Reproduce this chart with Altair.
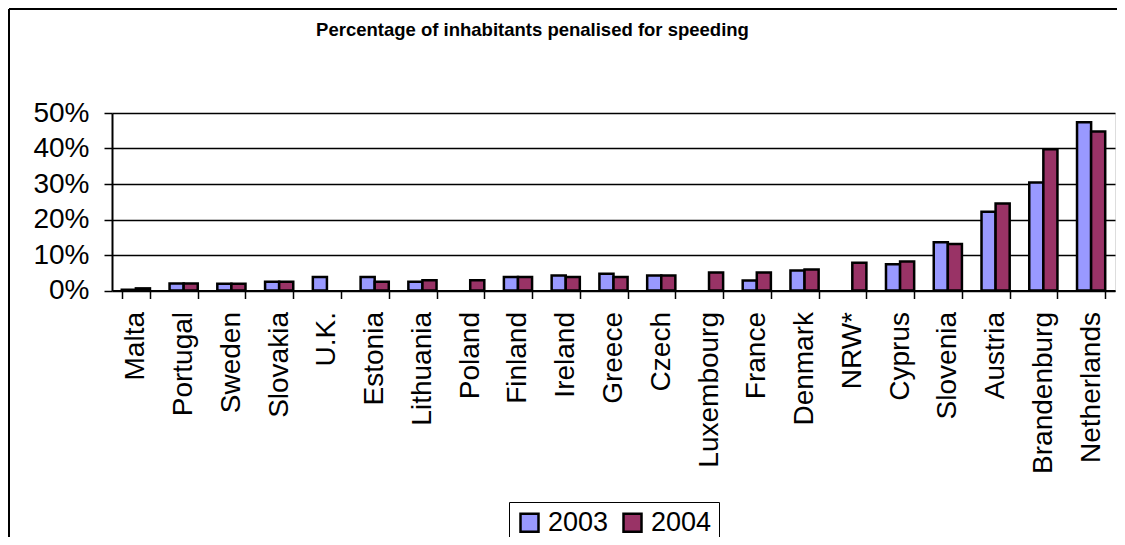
import altair as alt
import pandas as pd

countries = ["Malta", "Portugal", "Sweden", "Slovakia", "U.K.", "Estonia", "Lithuania",
             "Poland", "Finland", "Ireland", "Greece", "Czech", "Luxembourg", "France",
             "Denmark", "NRW*", "Cyprus", "Slovenia", "Austria", "Brandenburg", "Netherlands"]
years = ["2003", "2004"]
v2003 = [0.2, 2.0, 1.9, 2.5, 3.8, 3.8, 2.5, None, 3.8, 4.2, 4.7, 4.2, None, 2.8,
         5.6, None, 7.4, 13.6, 22.2, 30.4, 47.4]
v2004 = [0.6, 2.0, 1.9, 2.5, None, 2.5, 2.9, 2.9, 3.8, 3.8, 3.8, 4.2, 5.1, 5.1,
         5.9, 7.8, 8.2, 13.1, 24.5, 39.8, 44.8]
colors = ["#9999FF", "#993366"]
y_ticks = [0, 0.1, 0.2, 0.3, 0.4, 0.5]

rows = []
for c, a, b in zip(countries, v2003, v2004):
    if a is not None:
        rows.append({"country": c, "year": "2003", "value": a / 100})
    if b is not None:
        rows.append({"country": c, "year": "2004", "value": b / 100})
df = pd.DataFrame(rows)

FONT = "Liberation Sans"

bars = alt.Chart(df).mark_bar(stroke="black", strokeWidth=2.5).encode(
    x=alt.X("country:N", sort=countries,
            scale=alt.Scale(paddingInner=0.41, paddingOuter=0.205),
            axis=alt.Axis(title=None, labelAngle=270, tickBand="extent", tickSize=8,
                          labelPadding=13, labelFontSize=28, labelFont=FONT,
                          labelColor="black", domainColor="black", domainWidth=2,
                          tickColor="black", tickWidth=1.5, grid=False,
                          labelLimit=400)),
    xOffset=alt.XOffset("year:N", scale=alt.Scale(domain=years, paddingInner=0, paddingOuter=0)),
    y=alt.Y("value:Q", scale=alt.Scale(domain=[0, 0.5], nice=False),
            axis=alt.Axis(title=None, format="%", values=y_ticks, tickSize=8,
                          labelPadding=15, labelFontSize=28, labelFont=FONT,
                          labelColor="black", domainColor="black", domainWidth=2,
                          tickColor="black", tickWidth=1.5, grid=True,
                          gridColor="black", gridWidth=1.3)),
    color=alt.Color("year:N", scale=alt.Scale(domain=years, range=colors),
                    legend=alt.Legend(title=None, orient="none", legendX=397, legendY=389,
                                      direction="horizontal", strokeColor="black",
                                      padding=7, symbolType="square", symbolSize=324,
                                      symbolStrokeColor="black", symbolStrokeWidth=2.5,
                                      labelFontSize=27, labelFont=FONT, labelColor="black",
                                      columnPadding=9, labelOffset=5)),
)

frame_top = alt.Chart(df).mark_rule(color="black", strokeWidth=1.5).encode(
    x=alt.value(-103), x2=alt.value(1030), y=alt.value(-104))
frame_left = alt.Chart(df).mark_rule(color="black", strokeWidth=1.5).encode(
    x=alt.value(-103), y=alt.value(-104), y2=alt.value(450))

chart = alt.layer(frame_top, frame_left, bars).properties(
    width=1003, height=177.5,
    title=alt.TitleParams("Percentage of inhabitants penalised for speeding",
                          fontSize=18.5, font=FONT, fontWeight="bold", color="black",
                          anchor="middle", dx=-81, offset=-31),
    autosize=alt.AutoSizeParams(type="none"),
    padding={"left": 104, "top": 105, "right": 2, "bottom": 246},
).configure_view(
    fill="#C0C0C0", stroke="#808080", strokeWidth=2
).configure(background="white")

chart.save("out.html", embed_options={"renderer": "svg", "actions": False})
